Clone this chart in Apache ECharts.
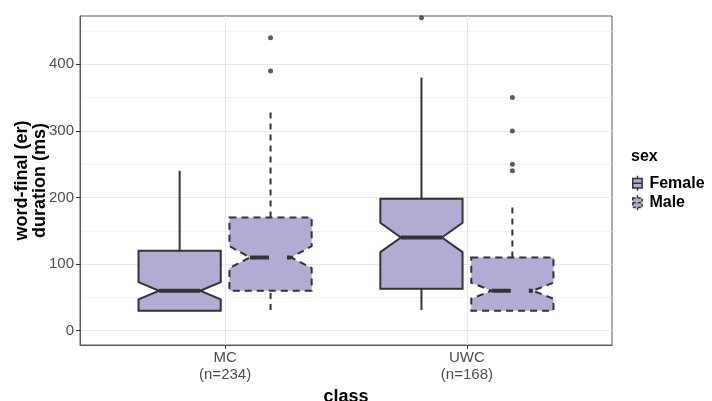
<!DOCTYPE html>
<html>
<head>
<meta charset="utf-8">
<script src="https://cdn.jsdelivr.net/npm/echarts@6/dist/echarts.min.js"></script>
<style>
  html, body { margin: 0; padding: 0; background: #fff; }
  #chart { width: 712px; height: 401px; }
</style>
</head>
<body>
<div id="chart"></div>
<script>
// ---- data ----
var classes = ['MC', 'UWC'];
var classCounts = ['(n=234)', '(n=168)'];
var sexes = ['Female', 'Male'];
// per class: [lowerWhisker, q1, notchLow, median, notchHigh, q3, upperWhisker]
var femaleStats = [
  [30, 30, 47, 60, 73, 120, 240],
  [31, 63, 118, 140, 162, 198, 380]
];
var maleStats = [
  [31, 60, 94, 110, 127, 170, 330],
  [30, 30, 48, 60, 72, 110, 190]
];
var femaleOutliers = [[], [470]];
var maleOutliers = [[390, 440], [240, 250, 300, 350]];
var yTicks = [0, 100, 200, 300, 400];
var yMinorTicks = [50, 150, 250, 350, 450];

// ---- layout/style ----
var FILL = '#B3ABD4';
var INK = '#333333';
var DODGE = 0.188;
var BOXW = 0.34;
var sexDash = [null, [7, 5]];
var whiskDash = [null, [6, 5]];
var medDash = [null, [19, 18]];

function boxData(stats, sexIdx) {
  return stats.map(function (s, ci) {
    var x = ci + 1 + (sexIdx === 0 ? -DODGE : DODGE);
    return [x].concat(s);
  });
}
function outlierData(outs, sexIdx) {
  var arr = [];
  outs.forEach(function (list, ci) {
    var x = ci + 1 + (sexIdx === 0 ? -DODGE : DODGE);
    list.forEach(function (v) { arr.push([x, v]); });
  });
  return arr;
}

function makeRender(sexIdx) {
  return function (params, api) {
    var x = api.value(0);
    var wl = api.value(1), q1 = api.value(2), nl = api.value(3), med = api.value(4),
        nh = api.value(5), q3 = api.value(6), wh = api.value(7);
    var w = api.size([BOXW, 0])[0];
    var c = api.coord([x, med]);
    var cx = c[0];
    var L = cx - w / 2, R = cx + w / 2, ind = w * 0.25;
    var y = function (v) { return api.coord([x, v])[1]; };
    var dash = sexDash[sexIdx], wd = whiskDash[sexIdx], md = medDash[sexIdx];
    var lineStyle = function (lw, d) {
      var s = { stroke: INK, lineWidth: lw, fill: null };
      if (d) s.lineDash = d;
      return s;
    };
    var children = [];
    children.push({ type: 'line', shape: { x1: cx, y1: y(q3), x2: cx, y2: y(wh) }, style: lineStyle(2, wd) });
    children.push({ type: 'line', shape: { x1: cx, y1: y(wl), x2: cx, y2: y(q1) }, style: lineStyle(2, wd) });
    var poly = [
      [L, y(q3)], [R, y(q3)], [R, y(nh)], [R - ind, y(med)], [R, y(nl)], [R, y(q1)],
      [L, y(q1)], [L, y(nl)], [L + ind, y(med)], [L, y(nh)]
    ];
    var ps = { fill: FILL, stroke: INK, lineWidth: 2 };
    if (dash) ps.lineDash = dash;
    children.push({ type: 'polygon', shape: { points: poly }, style: ps });
    children.push({ type: 'line', shape: { x1: L + ind, y1: y(med), x2: R - ind, y2: y(med) }, style: lineStyle(4, md) });
    return { type: 'group', children: children };
  };
}

var iconPath = 'path://M5,0L5,3M0,3L10,3L10,13L0,13ZM0,8L10,8M5,13L5,16';

var chart = echarts.init(document.getElementById('chart'), null, { renderer: 'canvas' });
chart.setOption({
  animation: false,
  backgroundColor: '#ffffff',
  title: {
    text: 'sex', left: 631, top: 149, padding: 0,
    textStyle: { fontFamily: 'Liberation Sans, Arial, sans-serif', fontWeight: 'bold', fontSize: 16, color: '#000' }
  },
  legend: {
    orient: 'vertical', left: 632, top: 175, padding: 0,
    itemWidth: 10, itemHeight: 15, itemGap: 3,
    textStyle: { fontFamily: 'Liberation Sans, Arial, sans-serif', fontWeight: 'bold', fontSize: 16, color: '#000', padding: [0, 0, 0, 2] },
    data: [
      { name: sexes[0], icon: iconPath, itemStyle: { color: FILL, borderColor: INK, borderWidth: 1.5 } },
      { name: sexes[1], icon: iconPath, itemStyle: { color: FILL, borderColor: INK, borderWidth: 1.5, borderType: [3, 2] } }
    ]
  },
  grid: {
    left: 80, right: 100, top: 16, bottom: 56,
    containLabel: false, outerBoundsMode: 'none',
    show: true, borderColor: '#5a5a5a', borderWidth: 1, backgroundColor: '#fff'
  },
  xAxis: {
    type: 'value', min: 0.4, max: 2.6,
    name: 'class', nameLocation: 'middle', nameGap: 39,
    nameTextStyle: { fontFamily: 'Liberation Sans, Arial, sans-serif', fontWeight: 'bold', fontSize: 18, color: '#000' },
    axisLine: { show: true, onZero: false, lineStyle: { color: '#5a5a5a', width: 1 } },
    axisTick: { show: true, inside: false, length: 4, customValues: [1, 2], lineStyle: { color: '#333', width: 1 } },
    axisLabel: {
      customValues: [1, 2], margin: 4,
      fontFamily: 'Liberation Sans, Arial, sans-serif', fontSize: 15, color: '#4d4d4d', lineHeight: 17,
      formatter: function (v) { var i = Math.round(v) - 1; return classes[i] + '\n' + classCounts[i]; }
    },
    splitLine: { show: true, lineStyle: { color: '#e8e8e8', width: 1 } }
  },
  yAxis: [{
    type: 'value', min: -21.5, max: 472.5,
    axisLine: { show: true, onZero: false, lineStyle: { color: '#5a5a5a', width: 1 } },
    axisTick: { show: true, inside: false, length: 4, customValues: yTicks, lineStyle: { color: '#333', width: 1 } },
    axisLabel: { customValues: yTicks, margin: 6, fontFamily: 'Liberation Sans, Arial, sans-serif', fontSize: 15, color: '#4d4d4d' },
    splitLine: { show: true, lineStyle: { color: '#e8e8e8', width: 1 } }
  }, {
    type: 'value', min: -21.5, max: 472.5, position: 'left',
    name: 'word-final (er)\nduration (ms)', nameLocation: 'middle', nameRotate: 90, nameGap: 31,
    nameTextStyle: { fontFamily: 'Liberation Sans, Arial, sans-serif', fontWeight: 'bold', fontSize: 18, color: '#000', lineHeight: 18 },
    axisLine: { show: false, onZero: false },
    axisTick: { show: false, customValues: yMinorTicks },
    axisLabel: { show: false, customValues: yMinorTicks },
    splitLine: { show: true, lineStyle: { color: '#f3f3f3', width: 1 } }
  }],
  series: [
    { name: sexes[0], type: 'custom', renderItem: makeRender(0), data: boxData(femaleStats, 0),
      itemStyle: { color: FILL, borderColor: INK }, encode: { x: 0, y: [1, 2, 3, 4, 5, 6, 7] }, z: 3 },
    { name: sexes[1], type: 'custom', renderItem: makeRender(1), data: boxData(maleStats, 1),
      itemStyle: { color: FILL, borderColor: INK }, encode: { x: 0, y: [1, 2, 3, 4, 5, 6, 7] }, z: 3 },
    { name: sexes[0] + ' outliers', type: 'scatter', data: outlierData(femaleOutliers, 0),
      symbolSize: 5, itemStyle: { color: INK }, z: 4 },
    { name: sexes[1] + ' outliers', type: 'scatter', data: outlierData(maleOutliers, 1),
      symbolSize: 5, itemStyle: { color: INK }, z: 4 }
  ]
});
</script>
</body>
</html>
